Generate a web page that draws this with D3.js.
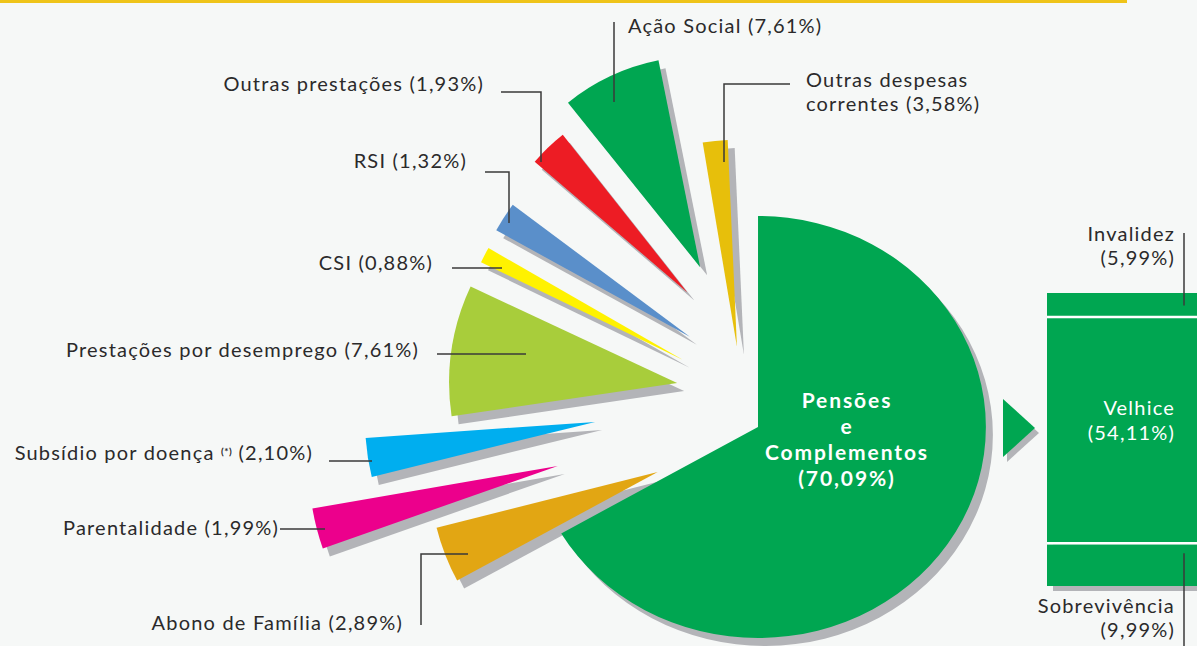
<!DOCTYPE html>
<html>
<head>
<meta charset="utf-8">
<script src="https://cdn.jsdelivr.net/npm/d3@7"></script>
<style>
  body { margin: 0; background: #f6f8f7; overflow: hidden; }
  text { font-family: Lato, "Open Sans", sans-serif; }
</style>
</head>
<body>
<script>
'use strict';

// slices, clockwise from 12 o'clock
const categories = ["Pensões e Complementos", "Abono de Família", "Parentalidade",
  "Subsídio por doença", "Prestações por desemprego", "CSI", "RSI",
  "Outras prestações", "Ação Social", "Outras despesas correntes"];
const shares = [70.09, 2.89, 1.99, 2.10, 7.61, 0.88, 1.32, 1.93, 7.61, 3.58];
const sliceColors = ["#00a651", "#e2a613", "#ec008c", "#00aeef", "#a8cd3b",
  "#fff200", "#5a8fca", "#ed1c24", "#00a651", "#e7bf0b"];

// breakdown of the pensions slice
const pensionParts = ["Invalidez", "Velhice", "Sobrevivência"];
const pensionShares = [5.99, 54.11, 9.99];

// hand layout of the exploded pie (style only, not data)
const explodeDist  = [0, 110, 204, 163, 92, 101, 113, 152, 170, 83];
const explodeAngle = [0, 245.8, 259, 271.8, 298.5, 311.8, 322.9, 332.3, 340.1, 345.3];
const sliceRadius  = [211, 228, 249, 230, 228, 224, 221, 201, 211, 207];
const sliceTurn    = [-6.3, -8.8, -10.9, -12.6, -12.8, -8.6, -7.6, -0.1, 1.5, 0.4];
const sliceSpread  = [0.95, 1.37, 1.33, 1.30, 1.22, 1.29, 1.66, 1.6, 1.0, 0.54];

const width = 1197, height = 646;
const cx = 758, cy = 427;
const rad = Math.PI / 180;
const shadow = "#b3b4b8";
const ink = "#2b2a2b";
const labelSize = "20px", labelSpacing = "1.2px";

const pt = d3.formatLocale({decimal: ",", thousands: ".", grouping: [3], currency: ["", "€"]}).format(".2f");
const pctLabel = (i) => "(" + pt(shares[i]) + "%)";

const svg = d3.select("body").append("svg")
  .attr("width", width)
  .attr("height", height);

svg.append("rect").attr("width", width).attr("height", height).attr("fill", "#f6f8f7");

// yellow rule on top
svg.append("rect")
  .attr("x", 0).attr("y", 0)
  .attr("width", 1127).attr("height", 3)
  .attr("fill", "#efc419");

const pie = d3.pie().sort(null).value(d => d);
const arcs = pie(shares);

// builds the path of one exploded slice
function slicePath(a, i) {
  let mid = (a.startAngle + a.endAngle) / 2 + sliceTurn[i] * rad;
  let half = (a.endAngle - a.startAngle) / 2 * sliceSpread[i];
  return d3.arc()
    .innerRadius(0)
    .outerRadius(sliceRadius[i])
    .startAngle(mid - half)
    .endAngle(mid + half)();
}

function sliceTransform(i, dx, dy) {
  let ang = explodeAngle[i] * rad;
  let x = cx + explodeDist[i] * Math.sin(ang) + dx;
  let y = cy - explodeDist[i] * Math.cos(ang) + dy;
  let s = i === 0 ? " scale(1.08,1)" : "";
  return "translate(" + x + "," + y + ")" + s;
}

// shadows first
svg.append("g").selectAll("path")
  .data(arcs).enter()
  .append("path")
    .attr("d", (d, i) => slicePath(d, i))
    .attr("transform", (d, i) => sliceTransform(i, 7, 8))
    .attr("fill", shadow);

svg.append("g").selectAll("path")
  .data(arcs).enter()
  .append("path")
    .attr("d", (d, i) => slicePath(d, i))
    .attr("transform", (d, i) => sliceTransform(i, 0, 0))
    .attr("fill", (d, i) => sliceColors[i]);

// main slice label
const mainLines = ["Pensões", "e", "Complementos", pctLabel(0)];
svg.append("g").selectAll("text")
  .data(mainLines).enter()
  .append("text")
    .attr("x", 847)
    .attr("y", (d, i) => 408 + i * 26)
    .attr("text-anchor", "middle")
    .attr("fill", "#ffffff")
    .style("font-size", "21px")
    .style("font-weight", "bold")
    .style("letter-spacing", "1.9px")
    .text(d => d);

// outside labels with leader lines
const labelSpots = [
  {i: 1, x: 403, y: 630, anchor: "end", leader: [[421, 625], [421, 554], [468, 554]]},
  {i: 2, x: 279, y: 535, anchor: "end", leader: [[280, 529], [325, 529]]},
  {i: 3, x: 313, y: 460, anchor: "end", leader: [[329, 461], [372, 461]]},
  {i: 4, x: 419, y: 357, anchor: "end", leader: [[437, 354], [526, 354]]},
  {i: 5, x: 433, y: 270, anchor: "end", leader: [[452, 268], [502, 268]]},
  {i: 6, x: 467, y: 168, anchor: "end", leader: [[485, 172], [509, 172], [509, 223]]},
  {i: 7, x: 484, y: 91, anchor: "end", leader: [[501, 92], [541, 92], [541, 162]]},
  {i: 8, x: 628, y: 33, anchor: "start", leader: [[614, 22], [614, 102]]},
  {i: 9, x: 806, y: 87, anchor: "start", leader: [[790, 84], [724, 84], [724, 162]]}
];

let line = d3.line();

labelSpots.forEach(spot => {
  svg.append("path")
    .attr("d", line(spot.leader))
    .attr("fill", "none")
    .attr("stroke", "#3a3a3a")
    .attr("stroke-width", 1.5);

  let t = svg.append("text")
    .attr("x", spot.x)
    .attr("y", spot.y)
    .attr("text-anchor", spot.anchor)
    .attr("fill", ink)
    .style("font-size", labelSize)
    .style("letter-spacing", labelSpacing);

  if (spot.i === 3) {
    t.append("tspan").text(categories[3] + " ");
    t.append("tspan").style("font-size", "10px").style("font-weight", "bold")
      .style("letter-spacing", "0.5px").attr("dy", -5).text("(*)");
    t.append("tspan").attr("dy", 5).text(" " + pctLabel(3));
  } else if (spot.i === 9) {
    t.append("tspan").attr("x", spot.x).text("Outras despesas");
    t.append("tspan").attr("x", spot.x).attr("dy", 24).text("correntes " + pctLabel(9));
  } else {
    t.text(categories[spot.i] + " " + pctLabel(spot.i));
  }
});

// arrow towards the breakdown bar
const arrow = [[1003, 399], [1035, 428], [1003, 457]];
svg.append("path").attr("d", line(arrow) + "Z")
  .attr("transform", "translate(4,5)").attr("fill", shadow);
svg.append("path").attr("d", line(arrow) + "Z").attr("fill", "#00a651");

// stacked breakdown bar
const total = d3.sum(pensionShares);
const yBar = d3.scaleLinear().domain([0, total]).range([293, 586]);
const barX = 1047, barW = 180;
let stacked = [];
let acc = 0;
pensionShares.forEach((v, i) => {
  stacked.push({name: pensionParts[i], v: v, y0: acc, y1: acc + v});
  acc += v;
});

svg.append("rect")
  .attr("x", barX + 6).attr("y", yBar(0) + 5)
  .attr("width", barW).attr("height", yBar(total) - yBar(0))
  .attr("fill", shadow);

svg.append("g").selectAll("rect")
  .data(stacked).enter()
  .append("rect")
    .attr("x", barX)
    .attr("y", d => yBar(d.y0))
    .attr("width", barW)
    .attr("height", d => yBar(d.y1) - yBar(d.y0))
    .attr("fill", "#00a651");

svg.append("g").selectAll("line")
  .data(stacked.slice(1)).enter()
  .append("line")
    .attr("x1", barX).attr("x2", barX + barW)
    .attr("y1", d => yBar(d.y0) - 1).attr("y2", d => yBar(d.y0) - 1)
    .attr("stroke", "#ffffff")
    .attr("stroke-width", 2.5);

const fmtBar = (v) => "(" + pt(v) + "%)";
const barTextX = 1175;

function barText(s, y, color) {
  svg.append("text")
    .attr("x", barTextX).attr("y", y)
    .attr("text-anchor", "end").attr("fill", color)
    .style("font-size", labelSize).style("letter-spacing", labelSpacing)
    .text(s);
}

// Velhice label inside the bar
let midV = yBar((stacked[1].y0 + stacked[1].y1) / 2);
barText(stacked[1].name, midV - 16, "#ffffff");
barText(fmtBar(stacked[1].v), midV + 9, "#ffffff");

// Invalidez label above
let midI = yBar((stacked[0].y0 + stacked[0].y1) / 2);
svg.append("line")
  .attr("x1", 1184).attr("x2", 1184).attr("y1", 233).attr("y2", midI)
  .attr("stroke", "#3a3a3a").attr("stroke-width", 1.5);
barText(stacked[0].name, 241, ink);
barText(fmtBar(stacked[0].v), 265, ink);

// Sobrevivência label below
let midS = yBar(stacked[2].y0) + 9;
svg.append("line")
  .attr("x1", 1184).attr("x2", 1184).attr("y1", midS).attr("y2", height)
  .attr("stroke", "#3a3a3a").attr("stroke-width", 1.5);
barText(stacked[2].name, 613, ink);
barText(fmtBar(stacked[2].v), 637, ink);
</script>
</body>
</html>
